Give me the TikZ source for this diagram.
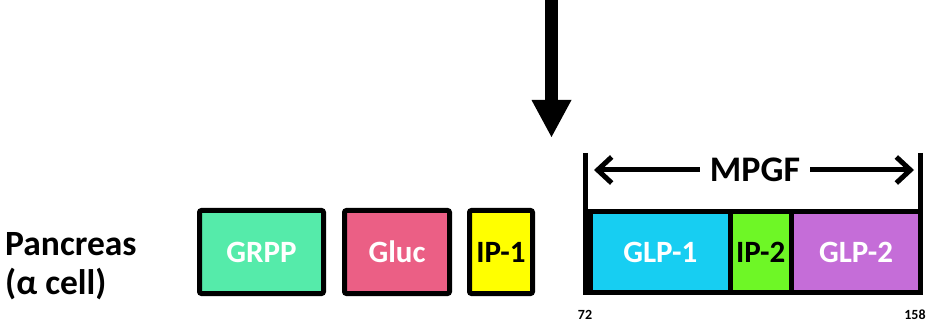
\documentclass[tikz,border=0pt]{standalone}
\usepackage{fontspec}
\setmainfont{Carlito}
\usetikzlibrary{arrows.meta}
\definecolor{cgrpp}{HTML}{55EBAA}
\definecolor{cgluc}{HTML}{EB5F85}
\definecolor{cipone}{HTML}{FFFF00}
\definecolor{cglpone}{HTML}{17CEF2}
\definecolor{ciptwo}{HTML}{6EF726}
\definecolor{cglptwo}{HTML}{C56DD8}
\tikzset{
  pbox/.style={draw=black, line width=5pt, rounded corners=2pt, inner sep=0pt,
    font=\fontsize{31}{37}\selectfont\bfseries, text=white},
  sbox/.style={draw=black, line width=5pt, inner sep=0pt,
    font=\fontsize{31}{37}\selectfont\bfseries, text=white},
  numlab/.style={font=\fontsize{14}{16}\selectfont\bfseries, inner sep=0pt},
  bigarrow/.style={line width=5pt, -{Straight Barb[length=14pt,width=26pt]}},
}
\begin{document}
\begin{tikzpicture}[x=1pt,y=-1pt]
\useasboundingbox (0,0) rectangle (933,328);
% left label
\node[align=left, anchor=west, inner sep=0pt, font=\fontsize{35.5}{39}\selectfont\bfseries] (panc) at (5,266) {Pancreas\\(α cell)};
% first three boxes
\node[pbox, fill=cgrpp, minimum width=124pt, minimum height=83pt] (grpp) at (261.5,252) {GRPP};
\node[pbox, fill=cgluc, minimum width=105pt, minimum height=83pt] (gluc) at (397,252) {Gluc};
\node[pbox, fill=cipone, text=black, minimum width=63pt, minimum height=83pt] (ipone) at (501,252) {IP-1};
% MPGF block
\node[sbox, fill=cglpone, minimum width=139.5pt, minimum height=80.5pt] (glpone) at (660.25,252.25) {GLP-1};
\node[sbox, fill=ciptwo, text=black, minimum width=61.5pt, minimum height=80.5pt] (iptwo) at (760.75,252.25) {IP-2};
\node[sbox, fill=cglptwo, minimum width=129pt, minimum height=80.5pt] (glptwo) at (856,252.25) {GLP-2};
% bracket bars
\coordinate (lbartop) at (585.5,153);
\coordinate (lbarbot) at (585.5,295);
\coordinate (rbartop) at (920.5,153);
\coordinate (rbarbot) at (920.5,295);
\draw[line width=5pt] (lbartop) -- (lbarbot);
\draw[line width=5pt] (rbartop) -- (rbarbot);
% MPGF label and arrows
\node[font=\fontsize{36}{40}\selectfont\bfseries, inner xsep=10pt, inner ysep=0pt] (mpgf) at (755,170) {MPGF};
\coordinate (ltip) at (594,170);
\coordinate (rtip) at (914,170);
\draw[bigarrow] (mpgf.west) -- (ltip);
\draw[bigarrow] (mpgf.east) -- (rtip);
% numbers
\node[numlab] (nstart) at (585,315) {72};
\node[numlab] (nend) at (915,315) {158};
% down arrow
\coordinate (dtop) at (551.5,0);
\coordinate (dtip) at (551.5,137);
\draw[line width=13pt, -{Triangle[length=37pt,width=40pt,line width=0pt]}] (dtop) -- (dtip);
\end{tikzpicture}
\end{document}
